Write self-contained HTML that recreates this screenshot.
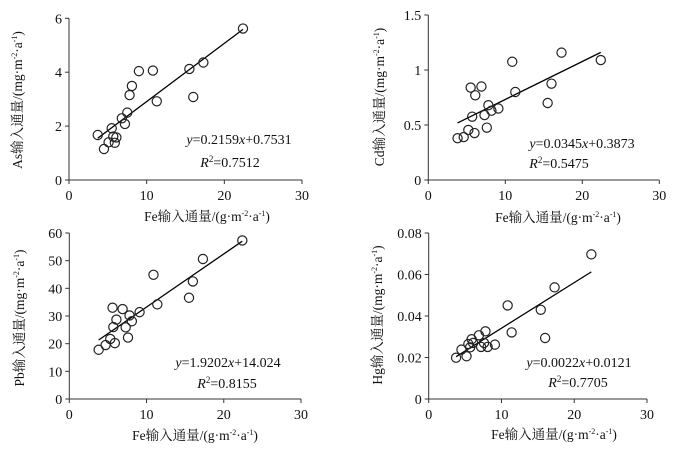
<!DOCTYPE html>
<html><head><meta charset="utf-8"><style>
body{margin:0;background:#fff}
svg{display:block}
text{font-family:"Liberation Serif","Noto Serif CJK SC",serif;fill:#111}
</style></head><body>
<svg id="c" width="682" height="457"></svg>
<script>
const xTicks=[0,10,20,30];
const asX=[3.7,4.5,5.1,5.5,5.7,5.9,6.1,6.8,7.2,7.5,7.8,8.1,9.0,10.8,11.3,15.5,16.0,17.3,22.4];
const asY=[1.67,1.15,1.40,1.92,1.61,1.38,1.58,2.29,2.08,2.50,3.15,3.49,4.04,4.06,2.92,4.12,3.08,4.36,5.62];
const cdX=[3.8,4.6,5.2,5.5,5.7,6.0,6.1,6.9,7.3,7.6,7.8,8.2,9.1,10.9,11.3,15.5,16.0,17.3,22.4];
const cdY=[0.38,0.39,0.455,0.84,0.576,0.427,0.77,0.85,0.59,0.476,0.68,0.63,0.65,1.075,0.80,0.70,0.876,1.158,1.09];
const pbX=[3.8,4.7,5.3,5.6,5.7,5.9,6.1,6.9,7.3,7.6,7.8,8.1,9.1,10.9,11.4,15.5,16.0,17.3,22.4];
const pbY=[17.8,19.5,21.7,33.0,26.0,20.2,28.7,32.5,25.9,22.2,30.2,28.1,31.4,44.9,34.2,36.6,42.5,50.6,57.3];
const hgX=[3.76,4.5,5.2,5.45,5.7,5.9,6.1,6.9,7.2,7.6,7.8,8.1,9.1,10.85,11.4,15.4,16.0,17.3,22.35];
const hgY=[0.0199,0.0238,0.0206,0.0265,0.0249,0.0288,0.027,0.0307,0.0251,0.027,0.0326,0.0251,0.0262,0.0451,0.0321,0.043,0.0294,0.0538,0.0697];
const asTicks=["0","2","4","6"], cdTicks=["0","0.5","1","1.5"], pbTicks=["0","10","20","30","40","50","60"], hgTicks=["0","0.02","0.04","0.06","0.08"];
const fits=[[0.2159,0.7531],[0.0345,0.3873],[1.9202,14.024],[0.0022,0.0121]];
const NS="http://www.w3.org/2000/svg", svg=document.getElementById('c');
function mk(t,a,p){const e=document.createElementNS(NS,t);for(const k in a)e.setAttribute(k,a[k]);(p||svg).appendChild(e);return e;}
const panels=[
 {id:'as',el:'As',x0:69,x1:302,y0:180,y1:18.3,ymax:6,yt:asTicks,xs:asX,ys:asY,f:fits[0],eq:["y=0.2159x+0.7531","0.7512"],ex:239,ey:144,rx:230,ry:167,tx:207,ty:221,yx:22,yy:100},
 {id:'cd',el:'Cd',x0:428.3,x1:659.3,y0:180,y1:15,ymax:1.5,yt:cdTicks,xs:cdX,ys:cdY,f:fits[1],eq:["y=0.0345x+0.3873","0.5475"],ex:582,ey:148,rx:559,ry:168,tx:558,ty:222,yx:384,yy:97},
 {id:'pb',el:'Pb',x0:69.3,x1:301,y0:399,y1:233,ymax:60,yt:pbTicks,xs:pbX,ys:pbY,f:fits[2],eq:["y=1.9202x+14.024","0.8155"],ex:228,ey:367,rx:227,ry:388,tx:195,ty:440,yx:24,yy:318},
 {id:'hg',el:'Hg',x0:428.7,x1:647,y0:399,y1:233,ymax:0.08,yt:hgTicks,xs:hgX,ys:hgY,f:fits[3],eq:["y=0.0022x+0.0121","0.7705"],ex:579,ey:367,rx:578,ry:387,tx:554,ty:439,yx:382,yy:315}
];
panels.forEach(p=>{
 const g=mk('g',{});
 
 
 const sx=v=>p.x0+(p.x1-p.x0)*v/30, sy=v=>p.y0-(p.y0-p.y1)*v/p.ymax;
 const ax=mk('path',{d:`M${p.x0},${p.y1}V${p.y0}H${p.x1}`,stroke:'#333',fill:'none','stroke-width':1},g);
 
 
 xTicks.forEach(t=>{const x=sx(t);mk('line',{x1:x,x2:x,y1:p.y0,y2:p.y0+4,stroke:'#333'},g);
  const tl=mk('text',{x:x,y:p.y0+20,'text-anchor':'middle','font-size':14},g);tl.textContent=t;
  
  });
 p.yt.forEach((t,i)=>{const y=sy(p.ymax*i/(p.yt.length-1));mk('line',{x1:p.x0-4,x2:p.x0,y1:y,y2:y,stroke:'#333'},g);
  const tl=mk('text',{x:p.x0-7,y:y+5,'text-anchor':'end','font-size':14},g);tl.textContent=t;
  
  });
 const xa=Math.min(...p.xs), xb=Math.max(...p.xs);
 const fl=mk('line',{x1:sx(xa),y1:sy(p.f[0]*xa+p.f[1]),x2:sx(xb),y2:sy(p.f[0]*xb+p.f[1]),stroke:'#000','stroke-width':1.3},g);
 
 
 p.xs.forEach((v,i)=>{const c=mk('circle',{cx:sx(v),cy:sy(p.ys[i]),r:4.6,fill:'none',stroke:'#222','stroke-width':1.2},g);
  
  });
 const e=mk('text',{x:p.ex,y:p.ey,'text-anchor':'middle','font-size':14},g);
 e.innerHTML=`<tspan font-style="italic">y</tspan>=${p.eq[0].slice(2).replace('x','<tspan font-style="italic">x</tspan>')}`;
 
 
 const r=mk('text',{x:p.rx,y:p.ry,'text-anchor':'middle','font-size':14},g);
 r.innerHTML=`<tspan font-style="italic">R</tspan><tspan font-size="9" dy="-5">2</tspan><tspan dy="5">=${p.eq[1]}</tspan>`;
 
 
 const xt=mk('text',{x:p.tx,y:p.ty,'text-anchor':'middle','font-size':13.5},g);
 xt.innerHTML='Fe输入通量/(g·m<tspan font-size="8" dy="-5">-2</tspan><tspan dy="5">·a</tspan><tspan font-size="8" dy="-5">-1</tspan><tspan dy="5">)</tspan>';
 
 
 const yt=mk('text',{x:0,y:0,'text-anchor':'middle','font-size':13.5,transform:`translate(${p.yx},${p.yy}) rotate(-90)`},g);
 yt.innerHTML=p.el+'输入通量/(mg·m<tspan font-size="8" dy="-5">-2</tspan><tspan dy="5">·a</tspan><tspan font-size="8" dy="-5">-1</tspan><tspan dy="5">)</tspan>';
 
 
});
</script>
</body></html>
